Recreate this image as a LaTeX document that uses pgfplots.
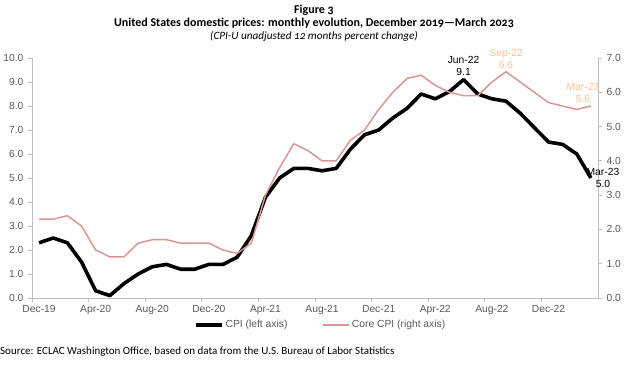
\documentclass[border=0pt]{standalone}
\usepackage{pgfplots}
\pgfplotsset{compat=1.18}
\usepackage{pgfplotstable}
\usepackage{fontspec}
\setmainfont{Carlito}[Numbers=OldStyle]
\newfontfamily\arial{Liberation Sans}
\definecolor{corecol}{HTML}{D99694}
\definecolor{annot}{HTML}{FAC090}
\definecolor{axgray}{HTML}{BFBFBF}
\definecolor{labgray}{HTML}{595959}

\pgfplotstableread{
m cpi core
0 2.3 2.3
1 2.5 2.3
2 2.3 2.4
3 1.5 2.1
4 0.3 1.4
5 0.1 1.2
6 0.6 1.2
7 1.0 1.6
8 1.3 1.7
9 1.4 1.7
10 1.2 1.6
11 1.2 1.6
12 1.4 1.6
13 1.4 1.4
14 1.7 1.3
15 2.6 1.6
16 4.2 3.0
17 5.0 3.8
18 5.4 4.5
19 5.4 4.3
20 5.3 4.0
21 5.4 4.0
22 6.2 4.6
23 6.8 4.9
24 7.0 5.5
25 7.5 6.0
26 7.9 6.4
27 8.5 6.5
28 8.3 6.2
29 8.6 6.0
30 9.1 5.9
31 8.5 5.9
32 8.3 6.3
33 8.2 6.6
34 7.7 6.3
35 7.1 6.0
36 6.5 5.7
37 6.4 5.6
38 6.0 5.5
39 5.0 5.6
}\data

\pgfplotsset{
  common/.style={
    at={(0,0)}, anchor=south west,
    scale only axis, width=566pt, height=240pt,
    xmin=-0.5, xmax=39.5, clip=false,
    axis line style={draw=axgray, line width=0.8pt, -},
    tick style={draw=axgray, line width=0.8pt},
    tick align=outside, major tick length=4pt,
    ticklabel style={font=\arial\fontsize{10.3}{11}\selectfont, text=labgray},
    /pgf/number format/assume math mode=true,
    yticklabel style={/pgf/number format/fixed, /pgf/number format/fixed zerofill, /pgf/number format/precision=1},
    ytick distance=1,
  }
}

\begin{document}
\begin{tikzpicture}[x=1pt,y=1pt]
\path[use as bounding box] (-32,-69) rectangle (592,298);
\begin{axis}[common,
  ymin=0, ymax=10,
  axis x line*=bottom, axis y line*=left,
  xtick={-0.5,3.5,...,35.5},
  xticklabels={Dec-19,Apr-20,Aug-20,Dec-20,Apr-21,Aug-21,Dec-21,Apr-22,Aug-22,Dec-22},
  xticklabel style={xshift=7.07pt},
  yticklabel style={xshift=-1pt},
  legend style={at={(axis description cs:0.51,-0.1125)}, anchor=center, draw=none, fill=none,
    legend columns=2, font=\arial\fontsize{10.3}{11}\selectfont, text=labgray,
    /tikz/every even column/.append style={column sep=33pt}},
  legend image code/.code={\draw[#1] (0pt,0pt) -- (26pt,0pt);},
]
\addplot[black, line width=3.6pt, line join=round] table[x=m, y=cpi] {\data};
\addlegendentry{CPI (left axis)}
\addlegendimage{corecol, line width=1.5pt}
\addlegendentry{Core CPI (right axis)}
\node[above, align=center, inner sep=1pt, yshift=3pt, font=\arial\fontsize{10.3}{12}\selectfont, text=black] at (axis cs:30,9.1) {Jun-22\\9.1};
\end{axis}
\begin{axis}[common,
  ymin=0, ymax=7,
  axis x line=none, axis y line*=right,
  yticklabel style={xshift=1pt},
]
\addplot[corecol, line width=1.5pt, line join=round] table[x=m, y=core] {\data};
\node[above, align=center, inner sep=1pt, yshift=2pt, font=\arial\fontsize{10.3}{12}\selectfont, text=annot] at (axis cs:33,6.6) {Sep-22\\6.6};
\node[above, align=center, inner sep=1pt, yshift=2pt, xshift=-8pt, font=\arial\fontsize{10.3}{12}\selectfont, text=annot] at (axis cs:39,5.6) {Mar-23\\5.6};
\end{axis}
\begin{axis}[common, ymin=0, ymax=10, axis lines=none]
\node[align=center, inner sep=0pt, xshift=12pt, font=\arial\fontsize{10.3}{12}\selectfont, text=black] at (axis cs:39,5.0) {Mar-23\\5.0};
\end{axis}
\node[align=center, font=\bfseries\fontsize{12}{13}\selectfont] at (282,281) {Figure 3\\United States domestic prices: monthly evolution, December 2019---March 2023};
\node[font=\itshape\fontsize{11.2}{12}\selectfont] at (282,262) {(CPI-U unadjusted 12 months percent change)};
\node[anchor=west, inner sep=0pt, font=\fontsize{11}{12}\selectfont] at (-32,-54) {Source: ECLAC Washington Office, based on data from the U.S. Bureau of Labor Statistics};
\end{tikzpicture}
\end{document}
